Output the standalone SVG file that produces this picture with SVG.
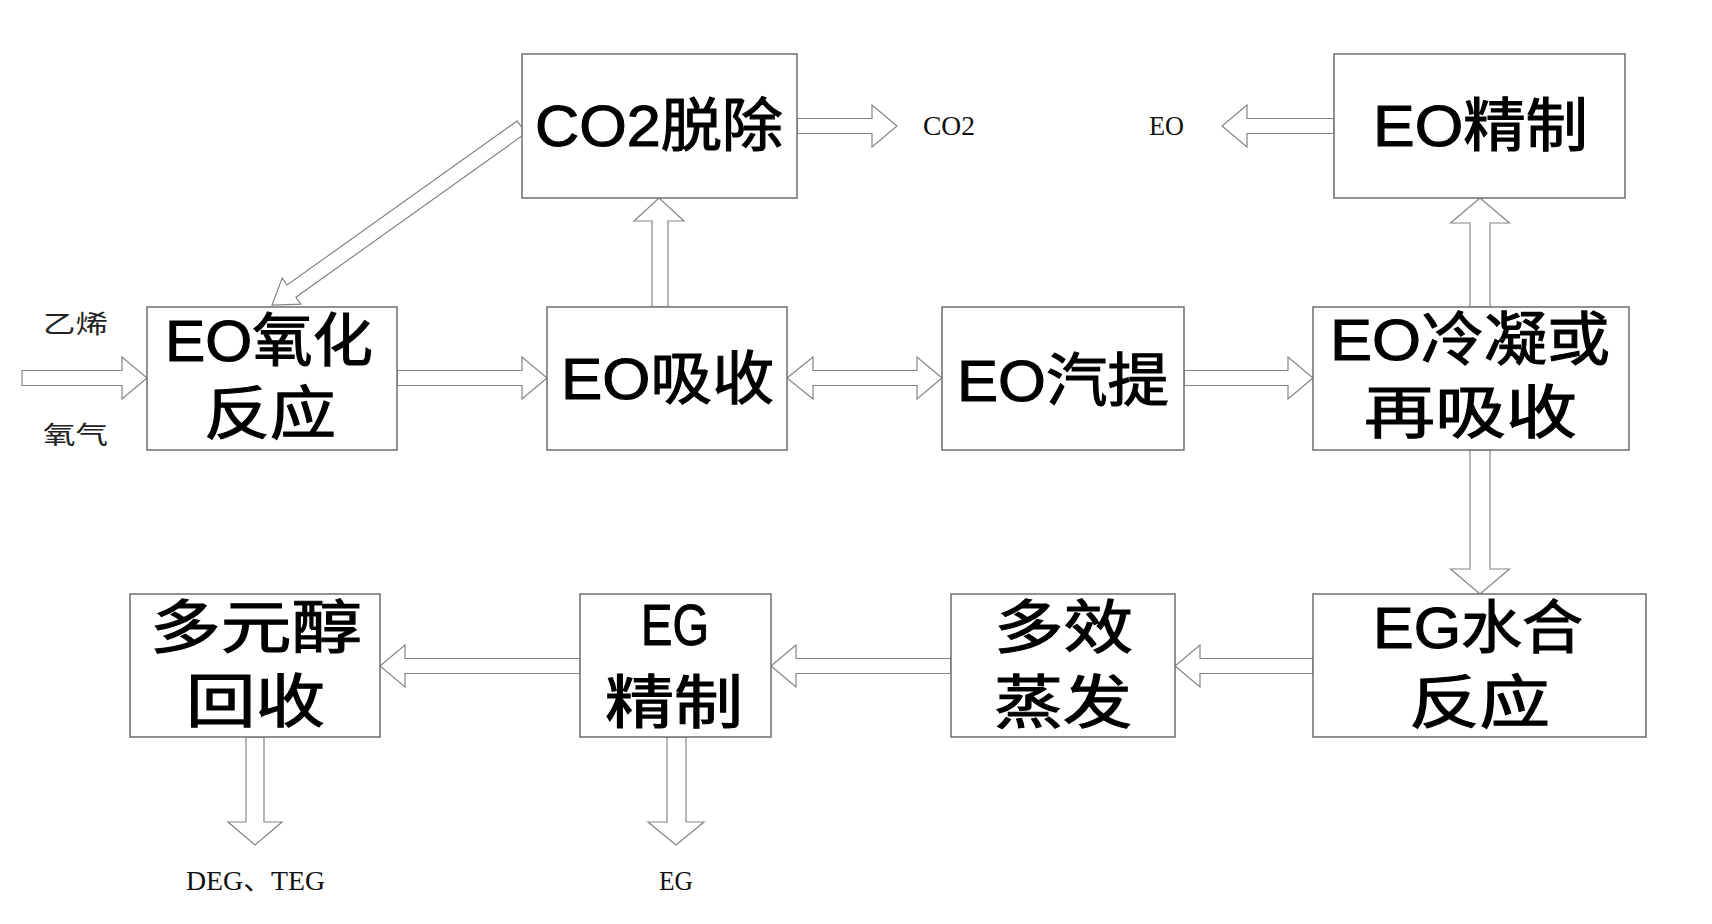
<svg xmlns="http://www.w3.org/2000/svg" width="1712" height="924" viewBox="0 0 1712 924">
<style>
.box{fill:#fff;stroke:#6e6e6e;stroke-width:1.5}
.arr{fill:#fff;stroke:#858585;stroke-width:1.2;stroke-linejoin:miter}
.t{font-family:"Liberation Sans","Noto Sans CJK SC",sans-serif;font-size:58px;fill:#000;stroke:#000;stroke-width:1.1}
.s{font-family:"Liberation Serif","Noto Sans CJK SC",serif;font-size:27px;fill:#111}
.c{font-family:"Liberation Serif","Noto Sans CJK SC",serif;font-size:25px;fill:#222}
</style>
<rect width="1712" height="924" fill="#fff"/>
<g id="connectors">
<polygon class="arr" points="22,370.5 122,370.5 122,357 147,378 122,399 122,385.5 22,385.5"/>
<polygon class="arr" points="397,370.5 522,370.5 522,357 547,378 522,399 522,385.5 397,385.5"/>
<polygon class="arr" points="787,378 813,357 813,370.5 917,370.5 917,357 942,378 917,399 917,385.5 813,385.5 813,399"/>
<polygon class="arr" points="1184,370.5 1288,370.5 1288,357 1313,378 1288,399 1288,385.5 1184,385.5"/>
<polygon class="arr" points="797,118.5 872,118.5 872,105 897,126 872,147 872,133.5 797,133.5"/>
<polygon class="arr" points="1334,118.5 1247,118.5 1247,105 1222,126 1247,147 1247,133.5 1334,133.5"/>
<polygon class="arr" points="1313,658.5 1200,658.5 1200,645 1175,666 1200,687 1200,673.5 1313,673.5"/>
<polygon class="arr" points="951,658.5 796,658.5 796,645 771,666 796,687 796,673.5 951,673.5"/>
<polygon class="arr" points="580,658.5 405,658.5 405,645 380,666 405,687 405,673.5 580,673.5"/>
<polygon class="arr" points="652,307 652,221 634,221 659,198 684,221 668,221 668,307"/>
<polygon class="arr" points="1470,307 1470,223 1450.5,223 1480,198 1509.5,223 1490,223 1490,307"/>
<polygon class="arr" points="1470,450 1470,569 1450.5,569 1480,594 1509.5,569 1490,569 1490,450"/>
<polygon class="arr" points="246,737 246,822 228,822 255,845 282,822 264,822 264,737"/>
<polygon class="arr" points="667,737 667,822 648,822 676,845 704,822 686,822 686,737"/>
<polygon class="arr" points="517.1,120.9 287.1,285 282.2,278.1 272,305 300.8,304.1 295.9,297.2 525.9,133.1"/>
</g>
<g id="n-co2">
<rect class="box" x="522" y="54" width="275" height="144"/>
<text class="t" x="535" y="146" textLength="248" lengthAdjust="spacingAndGlyphs">CO2脱除</text>
</g>
<g id="n-eojz">
<rect class="box" x="1334" y="54" width="291" height="144"/>
<text class="t" x="1373" y="146" textLength="215" lengthAdjust="spacingAndGlyphs">EO精制</text>
</g>
<g id="n-eoyh">
<rect class="box" x="147" y="307" width="250" height="143"/>
<text class="t" x="165" y="361" textLength="208" lengthAdjust="spacingAndGlyphs">EO氧化</text>
<text class="t" x="204" y="434" textLength="132" lengthAdjust="spacingAndGlyphs">反应</text>
</g>
<g id="n-eoxs">
<rect class="box" x="547" y="307" width="240" height="143"/>
<text class="t" x="561" y="399" textLength="213" lengthAdjust="spacingAndGlyphs">EO吸收</text>
</g>
<g id="n-eoqt">
<rect class="box" x="942" y="307" width="242" height="143"/>
<text class="t" x="957" y="401" textLength="212" lengthAdjust="spacingAndGlyphs">EO汽提</text>
</g>
<g id="n-eoln">
<rect class="box" x="1313" y="307" width="316" height="143"/>
<text class="t" x="1330" y="360" textLength="280" lengthAdjust="spacingAndGlyphs">EO冷凝或</text>
<text class="t" x="1364" y="433" textLength="213" lengthAdjust="spacingAndGlyphs">再吸收</text>
</g>
<g id="n-egsh">
<rect class="box" x="1313" y="594" width="333" height="143"/>
<text class="t" x="1373" y="648" textLength="210" lengthAdjust="spacingAndGlyphs">EG水合</text>
<text class="t" x="1409" y="723" textLength="141" lengthAdjust="spacingAndGlyphs">反应</text>
</g>
<g id="n-dxzf">
<rect class="box" x="951" y="594" width="224" height="143"/>
<text class="t" x="994" y="648" textLength="139" lengthAdjust="spacingAndGlyphs">多效</text>
<text class="t" x="994" y="723" textLength="138" lengthAdjust="spacingAndGlyphs">蒸发</text>
</g>
<g id="n-egjz">
<rect class="box" x="580" y="594" width="191" height="143"/>
<text class="t" x="641" y="645" textLength="68" lengthAdjust="spacingAndGlyphs">EG</text>
<text class="t" x="605" y="723" textLength="138" lengthAdjust="spacingAndGlyphs">精制</text>
</g>
<g id="n-dyc">
<rect class="box" x="130" y="594" width="250" height="143"/>
<text class="t" x="150" y="648" textLength="212" lengthAdjust="spacingAndGlyphs">多元醇</text>
<text class="t" x="186" y="722" textLength="139" lengthAdjust="spacingAndGlyphs">回收</text>
</g>
<g id="labels">
<text class="c" x="43" y="333" textLength="65" lengthAdjust="spacingAndGlyphs">乙烯</text>
<text class="c" x="43" y="444" textLength="65" lengthAdjust="spacingAndGlyphs">氧气</text>
<text class="s" x="923" y="135" textLength="52" lengthAdjust="spacingAndGlyphs">CO2</text>
<text class="s" x="1149" y="135" textLength="35" lengthAdjust="spacingAndGlyphs">EO</text>
<text class="s" x="186" y="890" textLength="139" lengthAdjust="spacingAndGlyphs">DEG、TEG</text>
<text class="s" x="659" y="890" textLength="34" lengthAdjust="spacingAndGlyphs">EG</text>
</g>
</svg>
